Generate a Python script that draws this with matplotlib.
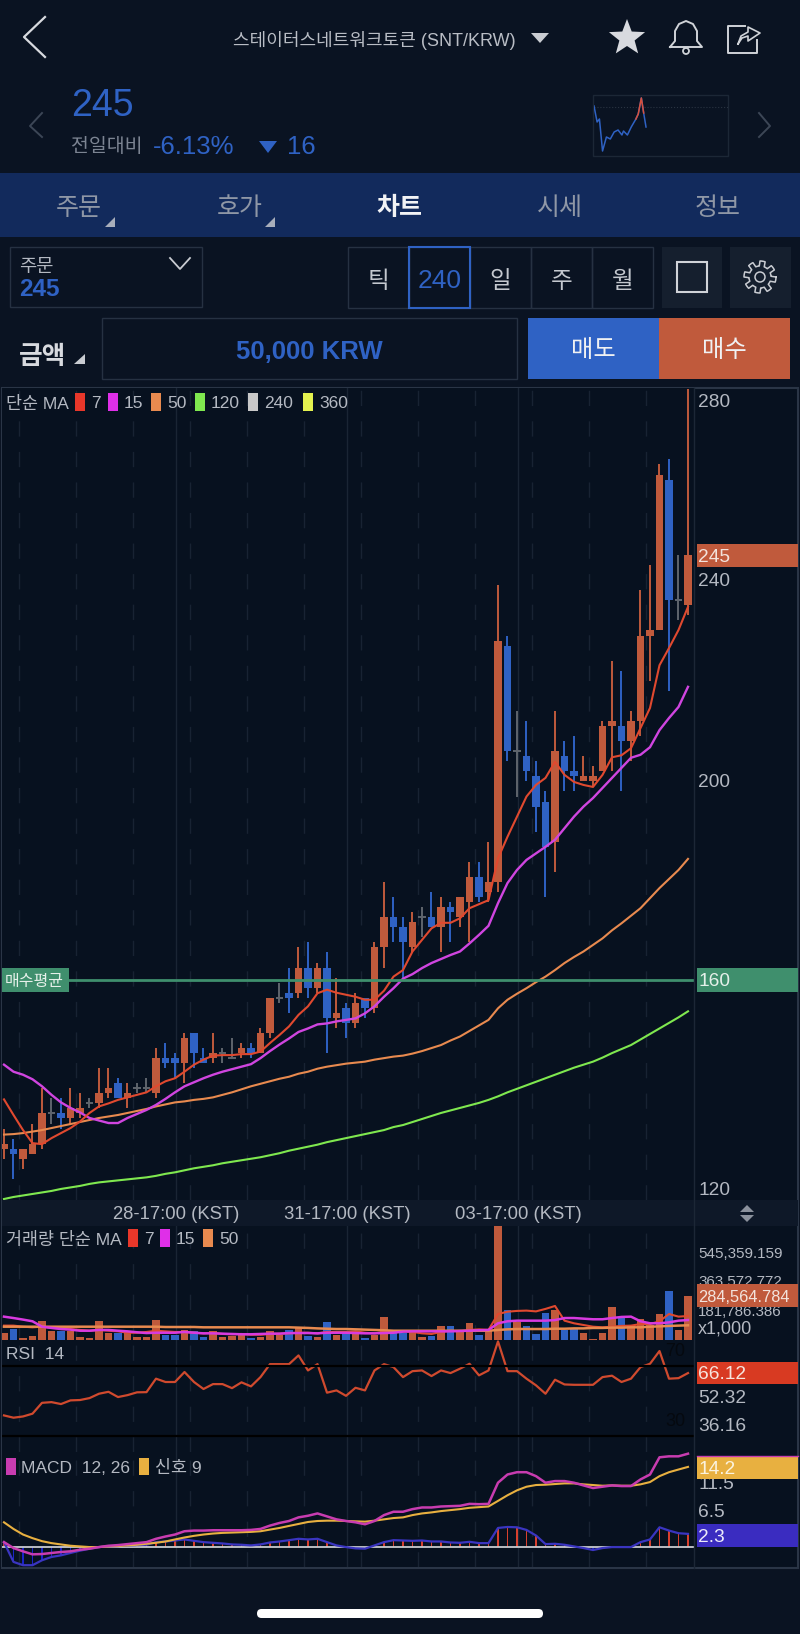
import numpy as np
import matplotlib
matplotlib.use('Agg')
import matplotlib.pyplot as plt
from matplotlib.patches import Rectangle, Polygon, FancyBboxPatch, Circle

plt.rcParams['font.family'] = ['Liberation Sans', 'Noto Sans CJK KR', 'DejaVu Sans']

# candles
opens = [127,127,125,126,128,134,134,133,134,136,136,138,140,137,139,139,138,145,145,144,150,145,145,146,145,146,147,146,150,157,158,158,163,159,163,153,155,152,157,155,167,173,171,167,173,173,171,175,173,176,181,178,180,227,206,205,201,196,188,205,202,200,200,202,211,211,208,212,229,230,260,236,235]
highs = [131,129,127,132,139,137,137,139,138,137,143,143,141,140,140,141,147,148,146,150,150,147,150,147,149,148,148,151,157,160,163,167,168,164,166,161,156,158,157,168,180,177,173,174,175,178,177,176,177,184,184,188,239,229,214,212,204,198,214,208,209,205,203,212,224,222,214,238,243,263,264,245,278]
lows = [125,121,123,126,127,132,131,132,133,135,135,137,137,135,138,138,137,143,141,140,143,144,144,144,145,145,145,146,149,156,154,157,157,158,146,151,149,151,153,154,163,168,161,166,169,171,166,168,171,168,176,176,178,204,197,200,190,177,182,198,198,200,199,202,202,198,204,209,220,230,218,232,233]
closes = [128,126,127,128,134,134,133,135,135,136,138,139,137,138,139,139,145,144,144,149,146,144,146,146,145,147,146,150,157,157,157,163,159,163,153,154,152,156,155,167,173,171,168,172,173,171,175,174,177,181,177,180,228,206,206,202,195,187,206,202,201,201,201,211,212,208,212,229,230,261,236,236,245]

ma7 = [136.8,133.7,130.7,128.1,127.9,129.1,130.1,131.1,132.4,134.1,135.4,136.0,136.7,137.2,137.7,138.2,139.4,140.4,141.0,142.3,143.7,144.7,145.5,145.6,145.6,145.8,145.8,146.3,148.0,149.6,151.3,153.6,155.3,157.9,158.6,158.0,157.6,157.2,156.6,156.6,158.4,161.2,162.5,166.2,168.5,170.8,171.9,171.9,172.8,174.8,175.6,176.4,184.7,189.0,193.0,197.0,199.3,200.7,203.9,201.3,199.9,199.3,198.9,201.3,204.8,205.2,206.6,210.6,214.6,223.1,226.5,230.1,234.7]
ma15 = [143.7,142.3,141.7,140.8,139.4,137.7,136.2,135.1,134.2,133.1,132.6,132.1,132.1,133.1,133.9,134.7,135.7,136.9,138.2,139.4,140.2,141.0,141.7,142.3,142.8,143.3,143.8,145.0,146.4,147.7,148.9,150.2,150.9,151.7,151.9,152.3,152.6,152.9,153.9,155.3,157.2,158.9,160.8,161.7,162.9,163.9,164.7,165.5,166.2,167.8,169.5,171.3,175.8,179.8,182.4,184.4,185.7,187.0,188.4,190.7,193.0,195.0,196.7,198.7,200.7,202.7,204.7,205.3,206.8,210.2,212.6,214.8,218.8]
ma50 = [129.8,129.9,130.1,130.4,130.7,131.1,131.5,131.9,132.3,132.7,133.1,133.4,133.7,134.1,134.5,134.9,135.4,135.8,136.2,136.4,136.7,136.9,137.2,137.7,138.2,138.8,139.4,139.9,140.4,140.9,141.3,141.9,142.3,142.9,143.3,143.6,143.9,144.1,144.3,144.7,145.0,145.3,145.5,145.9,146.4,147.0,147.6,148.5,149.3,150.4,151.5,152.6,154.9,156.6,157.8,158.9,160.1,161.2,162.5,163.9,165.1,166.2,167.5,168.8,170.4,171.8,173.3,174.8,176.8,178.8,180.6,182.4,184.6]
ma120 = [117.0,117.4,117.7,118.0,118.3,118.6,119.0,119.3,119.6,120.0,120.3,120.5,120.7,120.9,121.1,121.3,121.6,122.0,122.3,122.7,123.1,123.4,123.7,124.1,124.4,124.7,125.0,125.3,125.7,126.1,126.6,127.0,127.4,127.8,128.3,128.7,129.1,129.5,129.9,130.3,130.7,131.3,131.7,132.3,132.9,133.5,134.1,134.6,135.1,135.6,136.1,136.7,137.4,138.2,138.9,139.6,140.3,141.0,141.7,142.4,143.1,143.7,144.3,145.1,146.0,146.8,147.6,148.7,149.8,150.9,152.0,153.1,154.3]
avg_price = 160.55

# volume, in thousands
volume = [43,71,11,28,125,56,56,56,22,11,125,43,43,50,17,22,132,34,34,67,56,17,56,22,28,34,13,22,60,34,67,82,28,17,114,34,56,50,13,34,147,50,43,60,22,28,93,93,60,108,32,56,800,196,114,93,39,175,196,65,71,45,9,45,216,147,99,136,99,168,315,65,284.565]
vol_ma7 = [93,93,86,82,86,78,75,71,65,60,65,60,56,47,47,52,60,56,52,52,47,43,47,39,37,39,34,34,39,41,43,47,47,43,52,52,52,56,47,43,52,56,56,52,43,39,52,60,56,65,69,65,168,183,188,190,185,201,220,125,108,97,86,82,86,91,93,103,103,121,168,151,155]
vol_ma15 = [151,142,132,121,86,78,71,67,60,60,65,65,60,56,50,45,47,47,47,52,47,43,43,41,39,37,37,39,41,41,45,45,45,43,47,47,47,45,43,43,45,47,54,56,56,56,56,56,58,60,63,65,108,121,125,125,125,125,129,142,142,138,134,134,142,149,151,121,108,108,114,125,129]
vol_ma50 = [86,86,86,86,86,86,86,86,86,86,86,86,86,86,86,86,86,84,84,84,84,82,82,82,82,82,82,82,82,82,82,80,78,75,73,71,71,69,67,65,63,60,60,60,60,60,60,60,60,60,60,60,65,69,71,71,71,71,73,73,75,75,78,78,80,80,82,82,86,88,91,93,95]

rsi = [41.8,40.5,41.2,42.8,49.0,49.4,48.3,50.4,50.6,51.7,54.2,55.3,52.3,53.4,55.0,55.1,62.8,60.9,60.9,66.6,60.9,56.9,59.7,59.7,57.4,60.7,58.4,63.7,71.1,71.1,71.1,76.1,67.5,71.1,54.8,56.1,53.0,57.6,56.1,67.5,71.1,69.4,63.7,67.1,67.5,64.3,67.5,66.0,68.5,71.3,64.7,67.5,84.1,67.1,67.1,62.8,59.0,54.2,62.2,59.5,59.3,59.3,59.3,63.7,64.5,60.9,62.8,69.4,71.3,78.6,62.8,63.1,66.0]

macd = [0.84,-0.24,-0.84,-1.39,-1.33,-1.14,-0.96,-0.84,-0.54,-0.36,-0.06,0.18,0.30,0.48,0.66,0.84,1.45,1.87,2.23,2.83,2.95,2.95,3.01,3.01,3.01,3.01,3.07,3.25,3.86,4.34,4.70,5.36,5.66,6.08,5.54,5.00,4.70,4.46,4.10,4.70,5.78,6.39,6.39,6.87,7.17,7.17,7.35,7.41,7.47,7.83,7.77,7.83,11.69,13.19,13.61,13.61,12.89,11.69,11.99,11.99,11.69,11.20,10.72,10.96,11.20,11.08,11.08,12.29,13.19,16.33,16.51,16.51,16.99]
signal = [4.46,3.25,2.23,1.57,1.02,0.66,0.42,0.18,0.06,-0.06,-0.06,0.06,0.12,0.24,0.36,0.54,0.72,0.96,1.33,1.69,1.99,2.23,2.41,2.53,2.59,2.65,2.71,2.83,3.13,3.43,3.80,4.16,4.52,4.70,4.76,4.76,4.70,4.64,4.58,4.76,5.00,5.24,5.36,5.78,6.08,6.27,6.51,6.69,6.87,7.11,7.23,7.35,8.37,9.40,10.30,10.96,11.27,11.33,11.45,11.57,11.57,11.39,11.27,11.14,11.20,11.14,11.14,11.39,11.81,12.89,13.61,14.10,14.58]
osc = [0.84,-2.77,-3.37,-3.37,-2.47,-1.87,-1.57,-1.14,-0.72,-0.36,-0.06,0.06,0.12,0.24,0.30,0.36,0.84,0.96,1.14,1.33,1.08,0.84,0.72,0.60,0.42,0.36,0.24,0.42,0.78,0.96,1.20,1.45,1.33,1.45,0.84,0.24,-0.06,-0.30,-0.36,0.24,0.84,1.20,1.14,1.08,1.14,0.96,0.96,0.78,0.72,0.90,0.66,0.66,3.43,3.61,3.55,3.07,2.05,0.48,0.54,0.36,0.06,-0.24,-0.60,-0.24,-0.06,-0.06,-0.06,0.84,1.33,3.55,2.95,2.47,2.35]

# gridlines, in candle positions
grid_solid = [18.1, 36.1, 54.1]
grid_dashed = [1.6, 7.6, 13.6, 19.6, 25.6, 31.6, 37.6, 43.6, 49.6, 55.6, 61.6, 67.6]
time_labels = ['28-17:00 (KST)', '31-17:00 (KST)', '03-17:00 (KST)']

# little chart in the header
spark_x = [0,4,7,11,16,21,26,31,36,38,43,48,54,57,61,64,67]
spark_y = [49,33,36,4,18,16,23,25,20,24,20,28,36,41,57,42,28]

bg = '#0a1322'
panel_bg = '#07111f'
up = '#c05a3c'
down = '#2f62c4'
border = '#263142'
text_c = '#b4b9c2'
ma_colors = ['#e8372a', '#df2fe8', '#e88a4f', '#7fe84f', '#c8c8c8', '#e4f24f']

fig = plt.figure(figsize=(8, 16.34), dpi=100, facecolor=bg)


def pixel_axes(z):
    a = fig.add_axes([0, 0, 1, 1], zorder=z)
    a.set_xlim(0, 800)
    a.set_ylim(1634, 0)
    a.axis('off')
    a.patch.set_alpha(0)
    return a


def panel(top, bottom):
    left, right = 2, 694
    a = fig.add_axes([left/800, 1-bottom/1634, (right-left)/800, (bottom-top)/1634], zorder=2)
    a.set_facecolor(panel_bg)
    a.set_xlim((left-4)/9.5, (right-4)/9.5)
    a.set_xticks([])
    a.set_yticks([])
    for s in a.spines.values():
        s.set_visible(False)
    for g in grid_solid:
        a.axvline(g, color='#1a2534', lw=1, zorder=0)
    for g in grid_dashed:
        a.axvline(g, color='#182333', lw=1, dashes=(11, 11), zorder=0)
    return a


ui = pixel_axes(1)
top = pixel_axes(5)


def label(x, y, s, size, color=text_c, ha='left', weight='normal', z=5):
    # va center sits a little high with these fonts
    top.text(x, y+1.5, s, fontsize=size, color=color, ha=ha, va='center', weight=weight, zorder=z)


def box(x0, y0, x1, y1, fc='none', ec='none', lw=1, a=ui, z=2):
    a.add_patch(Rectangle((x0, y0), x1-x0, y1-y0, fc=fc, ec=ec, lw=lw, zorder=z))


# header
top.plot([45, 24, 45], [17, 37, 57], color='#d8dadf', lw=1.6)
label(233, 39, '스테이터스네트워크토큰 (SNT/KRW)', 13, '#b9bdc5')
top.add_patch(Polygon([(531, 33), (549, 33), (540, 43)], fc='#c9ccd2'))
star = [(627 + (19 if k % 2 == 0 else 8)*np.sin(k*np.pi/5), 38 - (19 if k % 2 == 0 else 8)*np.cos(k*np.pi/5)) for k in range(10)]
top.add_patch(Polygon(star, fc='#d8dadf', joinstyle='round'))
# bell
bx = [670, 675, 675, 679, 686, 693, 697, 697, 702, 670]
by = [47, 41, 31, 24, 21, 24, 31, 41, 47, 47]
top.plot(bx, by, color='#d0d3d8', lw=1.4)
top.add_patch(Circle((686, 51), 3, fc='none', ec='#d0d3d8', lw=1.3))
# share
top.plot([745, 728, 728, 757, 757], [26, 26, 53, 53, 40], color='#d0d3d8', lw=1.4)
top.plot([738, 741, 748, 748, 760, 748, 748, 742, 738], [44, 36, 32, 27, 33, 41, 36, 38, 44], color='#d0d3d8', lw=1.2)

label(71, 104, '245', 27, down)
top.plot([42, 30, 42], [113, 126, 137], color='#3c4656', lw=1.4)
top.plot([759, 770, 759], [113, 126, 137], color='#3c4656', lw=1.4)
label(71, 145, '전일대비', 14, '#7c8492')
label(153, 145, '-6.13%', 18.5, down)
top.add_patch(Polygon([(259, 141), (277, 141), (268, 153)], fc=down))
label(287, 145, '16', 18.5, down)

# small chart
box(593, 95, 728, 156, ec='#1c2736')
sp = fig.add_axes([594/800, 1-155/1634, 134/800, 60/1634], zorder=3)
sp.patch.set_alpha(0)
sp.axis('off')
sp.set_xlim(0, 67*134/52)
sp.set_ylim(0, 60)
sp.axhline(48, color='#2a3442', lw=0.8, ls=':')
sp.plot(spark_x, spark_y, color='#2f62c4', lw=1.1)
sp.plot(spark_x[12:16], spark_y[12:16], color='#d8503c', lw=1.1)

# tab bar
box(0, 173, 800, 237, fc='#122a5c')
tabs = ['주문', '호가', '차트', '시세', '정보']
tab_x = [79, 240, 399, 560, 718]
for t, x in zip(tabs, tab_x):
    if t == '차트':
        label(x, 206.5, t, 18, '#f2f3f5', 'center', 'bold')
    else:
        label(x, 206.5, t, 18, '#8f97a6', 'center')
top.add_patch(Polygon([(105, 227), (115, 227), (115, 217)], fc='#a8aebb'))
top.add_patch(Polygon([(265, 227), (275, 227), (275, 217)], fc='#a8aebb'))

# controls
box(10, 247, 202, 307, ec=border)
label(19, 266, '주문', 13.5, '#b4b9c2')
label(19, 288, '245', 17.5, down, weight='bold')
top.plot([170, 180, 190], [258, 269, 258], color='#c9ccd2', lw=1.3)
seg_x = [348, 409, 470, 531, 592]
seg_t = ['틱', '240', '일', '주', '월']
for x, t in zip(seg_x, seg_t):
    box(x, 247, x+61, 308, ec=border)
    if t == '240':
        label(x+30.5, 279, t, 19, down, 'center')
    else:
        label(x+30.5, 280, t, 17, '#c4c8cf', 'center')
box(409, 247, 470, 308, ec=down, lw=1.5, z=3)
box(662, 247, 722, 308, fc='#151f2e')
box(677, 262, 707, 292, ec='#d0d3d8', lw=1.5, z=3)
box(730, 247, 791, 308, fc='#151f2e')
th = np.linspace(0, 2*np.pi, 97)
gr = 13.5 + 2.5*np.sign(np.sin(8*th + 0.4))
top.plot(760 + gr*np.cos(th), 277 + gr*np.sin(th), color='#c9ccd2', lw=1.1)
top.add_patch(Circle((760, 277), 5, fc='none', ec='#c9ccd2', lw=1.1))

label(19, 355, '금액', 18.5, '#d8dadf', weight='bold')
top.add_patch(Polygon([(74, 364), (85, 364), (85, 354)], fc='#c9ccd2'))
box(102, 318, 517, 379, ec=border)
label(309, 350, '50,000 KRW', 18.5, down, 'center', 'bold')
box(528, 318, 659, 379, fc=down)
box(659, 318, 790, 379, fc=up)
label(593, 349, '매도', 17.5, '#f0f1f3', 'center')
label(724, 349, '매수', 17.5, '#f0f1f3', 'center')

# chart frame
box(2, 388, 798, 1568, fc=panel_bg, ec='#2a3546', lw=1.5, z=1)
box(2, 1200, 798, 1226, fc='#0e1828', z=3)
for x, t in zip(grid_solid, time_labels):
    label(4+9.5*x, 1213, t, 13.3, text_c, 'center')
top.add_patch(Polygon([(740, 1212), (754, 1212), (747, 1205)], fc='#8b919c'))
top.add_patch(Polygon([(740, 1215), (754, 1215), (747, 1222)], fc='#8b919c'))
top.plot([694, 694], [388, 1568], color='#1c2736', lw=1)

x = np.arange(len(closes))
colors = [up if c > o else (down if c < o else '#5f656d') for o, c in zip(opens, closes)]

# price panel
ax = panel(388, 1200)
ax.set_ylim(116.8, 278.2)
ax.vlines(x, lows, highs, colors=colors, lw=1.4, zorder=2)
for i in x:
    if opens[i] == closes[i]:
        ax.hlines(opens[i], i-0.42, i+0.42, color=colors[i], lw=1.4, zorder=2)
    else:
        ax.bar(i, abs(closes[i]-opens[i]), bottom=min(opens[i], closes[i]), width=0.84, color=colors[i], zorder=3)
ax.plot(x, ma120, color=ma_colors[3], lw=1.5, zorder=4)
ax.plot(x, ma50, color=ma_colors[2], lw=1.5, zorder=4)
ax.plot(x, ma15, color='#d045e0', lw=1.7, zorder=4)
ax.plot(x, ma7, color='#e0492f', lw=1.5, zorder=4)
ax.axhline(avg_price, color='#3f8f6d', lw=2, zorder=5)

# price legend
label(6, 402, '단순 MA', 12.5)
sw_x = [75, 108, 151, 195, 248, 303]
sw_t = ['7', '15', '50', '120', '240', '360']
for sx, t, c in zip(sw_x, sw_t, ma_colors):
    box(sx, 393, sx+10, 411, fc=c, a=top)
    label(sx+16, 402, t, 12.5)

label(698, 401, '280', 13.8)
label(698, 580, '240', 13.8)
label(698, 781, '200', 13.8)
label(698, 1189, '120', 13.8)
box(697, 544, 798, 567, fc=up, a=top)
label(698, 556, '245', 13.8, '#f3e3dc')
box(697, 968, 798, 992, fc='#3f8f6d', a=top)
label(698, 980, '160', 13.8, '#e6f0ea')
box(2, 968, 69, 992, fc='#3f8f6d', a=top)
label(5, 980, '매수평균', 11.5, '#e6f0ea')

# volume panel
av = panel(1226, 1340)
av.set_ylim(0, 737)
av.bar(x, volume, width=0.84, color=[up if c >= o else down for o, c in zip(opens, closes)], zorder=2)
av.plot(x, vol_ma7, color='#e0492f', lw=1.5, zorder=3)
av.plot(x, vol_ma50, color='#e88a4f', lw=1.8, zorder=3)
av.plot(x, vol_ma15, color='#d83ae0', lw=1.8, zorder=4)
label(6, 1238, '거래량 단순 MA', 12.5)
for sx, t, c in zip([128, 160, 203], ['7', '15', '50'], ma_colors):
    box(sx, 1229, sx+10, 1247, fc=c, a=top)
    label(sx+16, 1238, t, 12.5)
label(698, 1252, '545,359.159', 10.9)
label(698, 1281, '363,572.772', 10.9, z=3)
label(698, 1310, '181,786.386', 10.9, z=3)
label(698, 1328, 'x1,000', 13)
box(697, 1284, 798, 1307, fc=up, a=top, z=4)
label(698, 1296, '284,564.784', 11.8, '#f3e3dc')

# rsi panel
ar = panel(1340, 1452)
ar.set_ylim(20.9, 84.9)
ar.plot(x, rsi, color='#d04a2e', lw=1.6, zorder=3)
ar.axhline(70, color='black', lw=1.6, zorder=4)
ar.axhline(30, color='black', lw=1.6, zorder=4)
label(6, 1353, 'RSI  14', 12.5)
label(665, 1350, '70', 13, '#05090f')
label(665, 1420, '30', 13, '#05090f')
box(697, 1362, 798, 1384, fc='#d83a22', a=top)
label(698, 1373, '66.12', 13.8, '#f6e4de')
label(698, 1397, '52.32', 13.8)
label(698, 1425, '36.16', 13.8)

# macd panel
am = panel(1452, 1567)
am.set_ylim(-3.7, 17.3)
am.bar(x, osc, width=0.2, color=['#d8402e' if v > 0 else '#1a22c8' for v in osc], zorder=2)
am.axhline(0, color='#c8cbd0', lw=1.3, zorder=2)
am.plot(x, osc, color='#3a35c0', lw=1.6, zorder=3)
am.plot(x, signal, color='#e8b040', lw=1.5, zorder=4)
am.plot(x, macd, color='#c83cb0', lw=1.8, zorder=4)
box(6, 1458, 16, 1475, fc='#c83cb0', a=top)
label(21, 1467, 'MACD  12, 26', 12.5)
box(139, 1458, 149, 1475, fc='#e8b040', a=top)
label(155, 1467, '신호 9', 12.5)
label(698, 1483, '11.5', 13.8, z=3)
label(698, 1511, '6.5', 13.8)
box(697, 1456, 798, 1479, fc='#e8b040', a=top, z=4)
top.plot([697, 798], [1455.5, 1455.5], color='#c83cb0', lw=1, zorder=5)
label(698, 1468, '14.2', 13.8, '#fbf3df')
box(697, 1524, 798, 1547, fc='#3a2cc0', a=top)
label(698, 1536, '2.3', 13.8, '#ecebfa')

# home bar
top.add_patch(FancyBboxPatch((257, 1609), 286, 9, boxstyle='round,pad=0,rounding_size=4.5', fc='white', ec='none'))

fig.savefig('out.png', dpi=100, facecolor=bg)
